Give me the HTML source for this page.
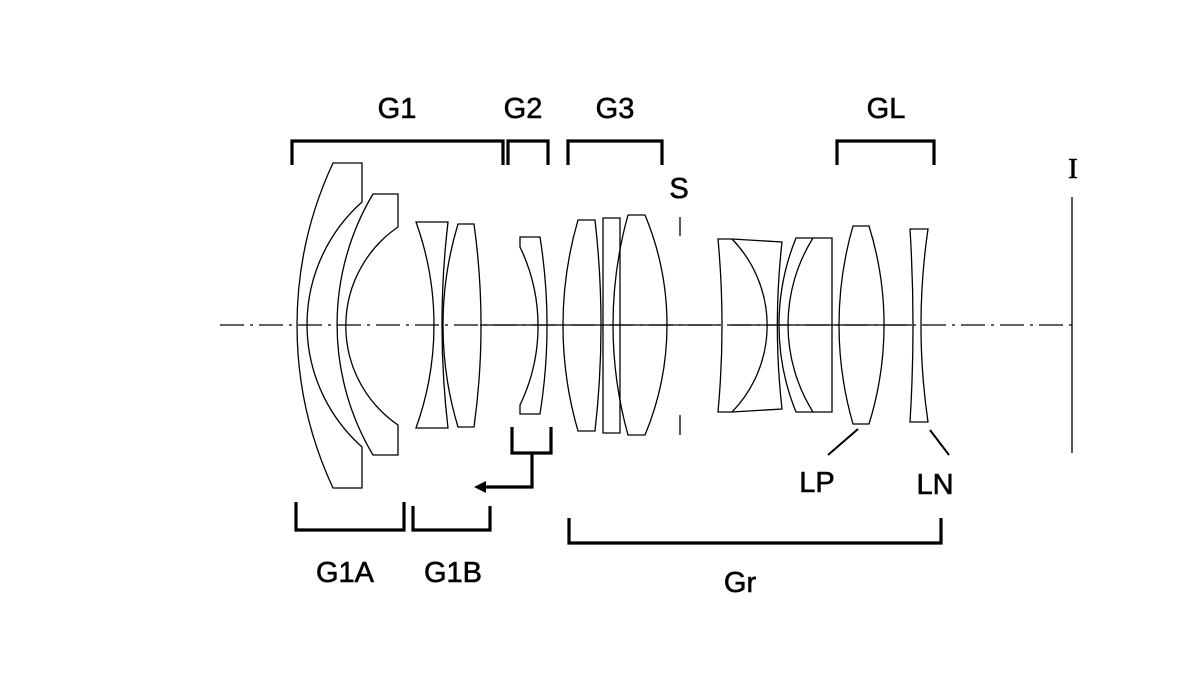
<!DOCTYPE html>
<html><head><style>body{margin:0;background:#fff}svg{display:block}</style></head><body>
<svg width="1200" height="675" viewBox="0 0 1200 675" xmlns="http://www.w3.org/2000/svg">
<rect width="1200" height="675" fill="#fff"/>
<g stroke="#000" stroke-width="1.3" fill="none">
<line x1="220" y1="325" x2="1072" y2="325" stroke-dasharray="24,6,3,6"/>
<line x1="480" y1="325" x2="720" y2="325"/>
<line x1="730" y1="325" x2="912" y2="325"/>
<!-- L1 -->
<path d="M333,163 L362,163 L362,202 A164,164 0 0 0 362,447 L362,488 L333,488 A385,385 0 0 1 333,163 Z"/>
<!-- L2 -->
<path d="M373,194 L398,194 L398,227 A120,120 0 0 0 398,425 L398,455 L373,455 A255,255 0 0 1 373,194 Z"/>
<!-- L3 -->
<path d="M416,222 L448,222 A887,887 0 0 0 448,428 L416,428 A304,304 0 0 0 416,222 Z"/>
<!-- L4 -->
<path d="M458,224 L474,224 A739,739 0 0 1 474,427 L458,427 A351,351 0 0 1 458,224 Z"/>
<!-- G2 -->
<path d="M520,237 L540,237 A563,563 0 0 1 540,414 L520,414 L520,405 A182,182 0 0 0 520,247 Z"/>
<!-- G3 -->
<path d="M578,220 L595,220 A930,930 0 0 1 595,431 L578,431 A378,378 0 0 1 578,220 Z"/>
<path d="M603,218 L620,218 L620,433 L603,433 Z"/>
<path d="M628,215 L645,215 A286,286 0 0 1 645,435 L628,435 A411,411 0 0 1 628,215 Z"/>
<!-- stop -->
<line x1="680" y1="217" x2="680" y2="236"/>
<line x1="680" y1="415" x2="680" y2="435"/>
<!-- rear doublet -->
<path d="M718,239 L732,239 L782,242 A751,751 0 0 0 782,409 L732,412 L718,412 A937,937 0 0 0 718,239 Z"/>
<path d="M732,239 A124,124 0 0 1 732,412"/>
<!-- second doublet -->
<path d="M796,238 L832,238 L832,412 L796,412 A231,231 0 0 1 796,238 Z"/>
<path d="M813,238 A164,164 0 0 0 813,412"/>
<!-- LP -->
<path d="M853,226 L869,226 A333,333 0 0 1 869,424 L853,424 A357,357 0 0 1 853,226 Z"/>
<!-- LN -->
<path d="M910,229 L928,229 A669,669 0 0 0 928,422 L910,422 A1552,1552 0 0 0 910,229 Z"/>
<!-- image plane -->
<line x1="1072" y1="197" x2="1072" y2="453"/>
<line x1="858" y1="429" x2="828" y2="455" stroke-width="2"/>
<line x1="930" y1="430" x2="949" y2="455" stroke-width="2"/>
</g>
<g stroke="#000" stroke-width="3.2" fill="none">
<path d="M292,165 V141 H503 V165"/>
<path d="M508,165 V141 H548 V165"/>
<path d="M568,165 V141 H662 V165"/>
<path d="M837,165 V141 H934 V165"/>
<path d="M296,502 V530 H404 V502"/>
<path d="M413,506 V530 H490 V506"/>
<path d="M512,427 V453 H551 V427"/>
<path d="M532,453 V487 H482"/>
<path d="M569,518 V543 H941 V518"/>
</g>
<polygon points="474,487 486,481 486,493" fill="#000"/>
<g font-family="Liberation Sans, sans-serif" font-size="29" fill="#000" text-anchor="middle" stroke="#000" stroke-width="0.6">
<text x="397" y="118">G1</text>
<text x="523" y="118">G2</text>
<text x="615" y="118">G3</text>
<text x="886" y="118">GL</text>
<text x="679" y="198">S</text>
<text x="1073" y="178" font-family="Liberation Serif, serif">I</text>
<text x="345" y="582">G1A</text>
<text x="453" y="582">G1B</text>
<text x="740" y="592">Gr</text>
<text x="817" y="492">LP</text>
<text x="935" y="494">LN</text>
</g>
</svg>
</body></html>
